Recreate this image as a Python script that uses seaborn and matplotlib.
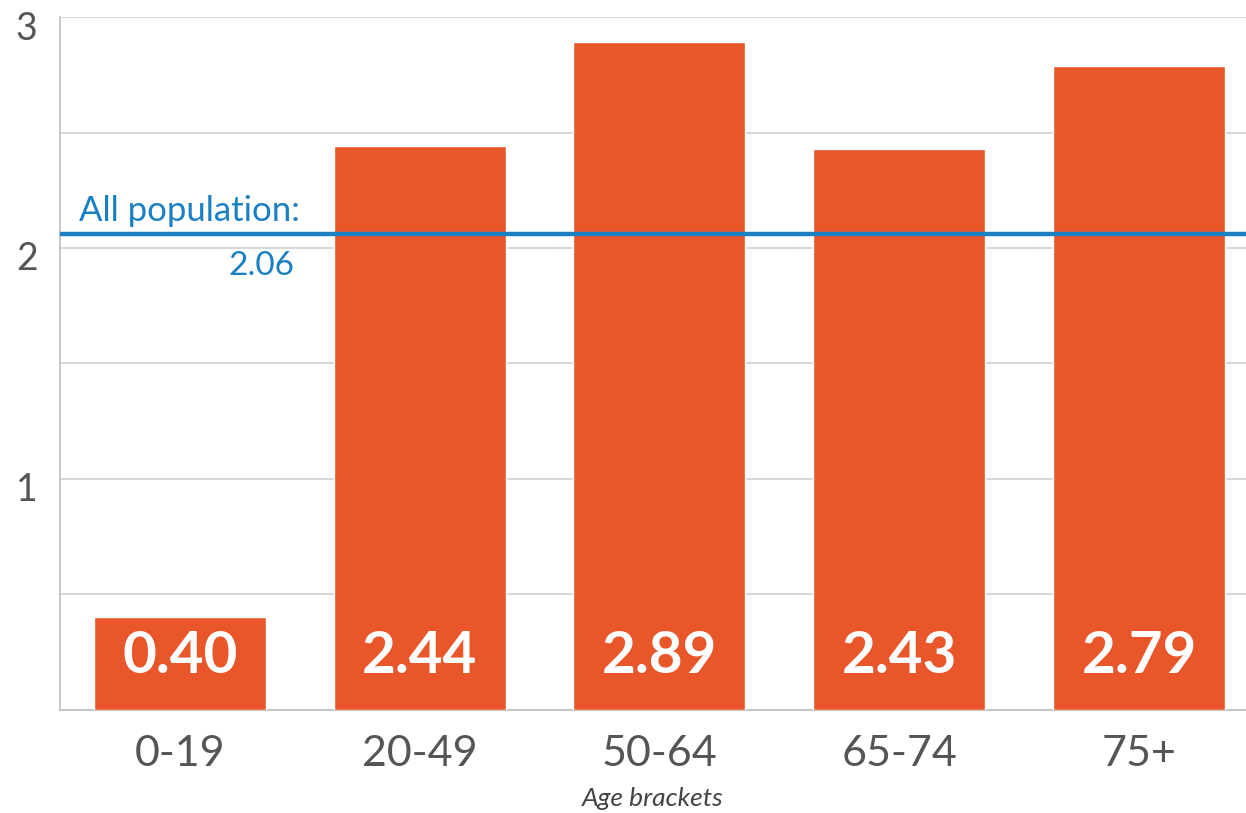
import matplotlib
matplotlib.use("Agg")
import matplotlib.pyplot as plt
import matplotlib.transforms as mtransforms
import seaborn as sns
import pandas as pd
from matplotlib.ticker import MultipleLocator, FixedLocator

categories = ["0-19", "20-49", "50-64", "65-74", "75+"]
values = [0.40, 2.44, 2.89, 2.43, 2.79]
value_labels = ["0.40", "2.44", "2.89", "2.43", "2.79"]
all_population = 2.06
yticks = [1, 2, 3]

sns.set_theme(style="white")
plt.rcParams['font.family'] = ['Lato', 'DejaVu Sans']

df = pd.DataFrame({"age": categories, "value": values})

fig = plt.figure(figsize=(12.46, 8.13), dpi=100)
ax = fig.add_axes([0.048, 0.127, 0.952, 0.852])

sns.barplot(data=df, x="age", y="value", color="#e8562a", saturation=1,
            width=0.717, ax=ax, zorder=3)

ax.set_ylim(0, 3)
ax.set_xlim(-0.5, 4.446)
ax.yaxis.set_major_locator(FixedLocator(yticks))
ax.yaxis.set_minor_locator(MultipleLocator(0.5))
ax.grid(True, which="both", axis="y", color="#cfcfcf", linewidth=1.2, zorder=0)
ax.set_axisbelow(True)

for s in ["top", "right"]:
    ax.spines[s].set_visible(False)
for s in ["left", "bottom"]:
    ax.spines[s].set_color("#bdbdbd")
    ax.spines[s].set_linewidth(1.2)

ax.tick_params(axis="y", which="both", length=0, pad=16, labelsize=27, labelcolor="#555555")
ax.tick_params(axis="x", which="major", length=0, pad=18, labelsize=31, labelcolor="#555555")
ax.xaxis.set_minor_locator(FixedLocator([0.5, 1.5, 2.5, 3.5]))
ax.tick_params(axis="x", which="minor", direction="in", length=8, color="#bdbdbd", width=1.2)

offset = mtransforms.ScaledTranslation(0, -8 / 100, fig.dpi_scale_trans)
for lab in ax.get_yticklabels():
    lab.set_transform(lab.get_transform() + offset)

ax.set_ylabel("")
ax.set_xlabel("Age brackets", fontsize=19, style="italic", color="#444444", labelpad=10)

for i, (v, t) in enumerate(zip(values, value_labels)):
    ax.text(i, 0.23, t, ha="center", va="center", color="white",
            fontsize=42, fontweight="bold", zorder=5)

ax.axhline(all_population, color="#1b7fc4", linewidth=3.2, zorder=4)
ax.annotate("All population:", xy=(0.5, all_population), xytext=(0, 5),
            textcoords="offset points", ha="right", va="bottom",
            color="#1b7fc4", fontsize=25, zorder=5)
ax.annotate(f"{all_population:.2f}", xy=(0.5, all_population), xytext=(-4, -12),
            textcoords="offset points", ha="right", va="top",
            color="#1b7fc4", fontsize=24, zorder=5)

fig.savefig("out.png", dpi=100)
